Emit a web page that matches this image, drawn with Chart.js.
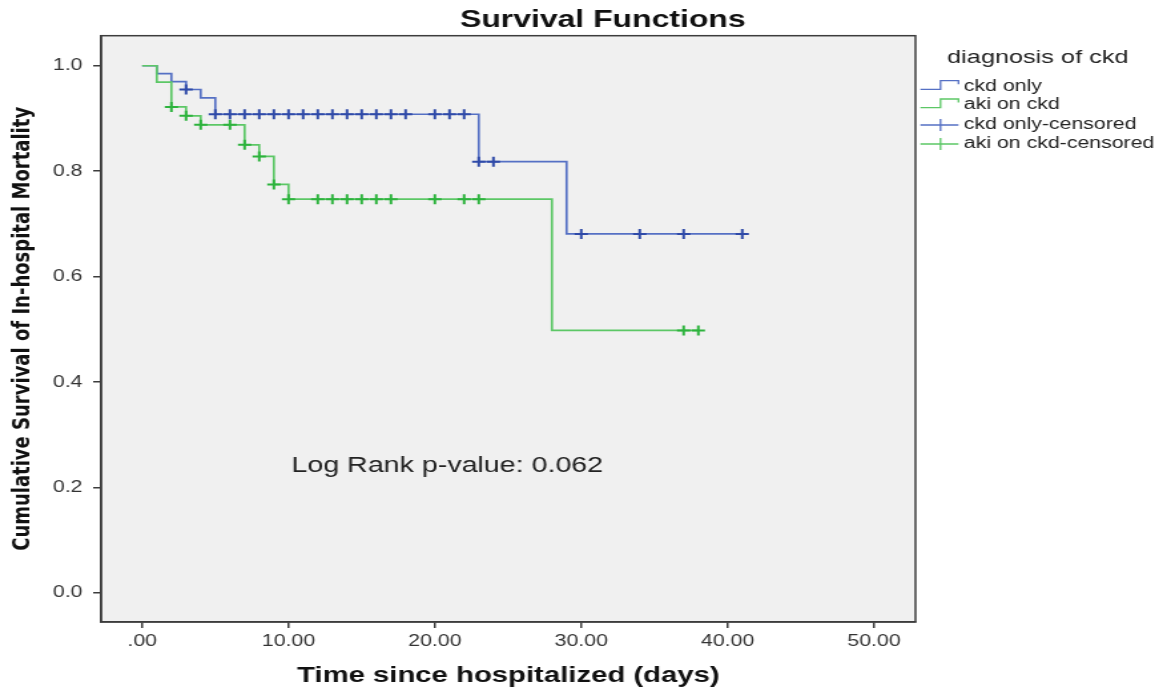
<!DOCTYPE html>
<html>
<head>
<meta charset="utf-8">
<title>Survival Functions</title>
<script src="https://cdn.jsdelivr.net/npm/chart.js@4.4.1/dist/chart.umd.min.js"></script>
<style>
  html, body { margin: 0; padding: 0; background: #fff; }
  #chart { display: block; }
</style>
</head>
<body>
<!-- drawn at a narrower logical width and stretched, like the SPSS export -->
<canvas id="chart" width="874" height="692" style="width:1163px;height:692px"></canvas>
<script>
// --- data ---
const seriesNames = ["ckd only", "aki on ckd"];
const legendLabels = ["ckd only", "aki on ckd", "ckd only-censored", "aki on ckd-censored"];

// event times (days) and survival after each step
const ckdTimes = [0, 1, 2, 3, 4, 5, 23, 29, 41];
const ckdSurv = [1.0, 0.985, 0.970, 0.955, 0.939, 0.908, 0.818, 0.681, 0.681];
const ckdCensored = [3, 5, 6, 7, 8, 9, 10, 11, 12, 13, 14, 15, 16, 17, 18, 20, 21, 22, 23, 24, 30, 34, 37, 41];

const akiTimes = [0, 1, 2, 3, 4, 7, 8, 9, 10, 28, 38];
const akiSurv = [1.0, 0.969, 0.922, 0.905, 0.888, 0.850, 0.828, 0.775, 0.747, 0.498, 0.498];
const akiCensored = [2, 3, 4, 6, 7, 8, 9, 10, 12, 13, 14, 15, 16, 17, 20, 22, 23, 37, 38];

const xTickValues = [0, 10, 20, 30, 40, 50];
const xTickLabels = [".00", "10.00", "20.00", "30.00", "40.00", "50.00"];
const yTickValues = [0, 0.2, 0.4, 0.6, 0.8, 1.0];
const yTickLabels = ["0.0", "0.2", "0.4", "0.6", "0.8", "1.0"];

const pValueText = "Log Rank p-value: 0.062";

// --- styling ---
const lineColors = ["#5570c4", "#5cc766"];
const markColors = ["#2f4aa8", "#2db33d"];
const FONT = '"Liberation Sans", Arial, sans-serif';

// survival value of a step curve at time t
function survAt(times, surv, t) {
  let s = surv[0];
  for (let i = 0; i < times.length; i++) {
    if (times[i] <= t) s = surv[i];
  }
  return s;
}

const toPoints = (xs, ys) => xs.map((x, i) => ({ x: x, y: ys[i] }));
const censorPoints = (cens, times, surv) => cens.map(t => ({ x: t, y: survAt(times, surv, t) }));

const plotFrame = {
  id: "plotFrame",
  beforeDraw(chart) {
    const { ctx, chartArea: a } = chart;
    ctx.save();
    ctx.fillStyle = "#f0f0f0";
    ctx.fillRect(a.left, a.top, a.right - a.left, a.bottom - a.top);
    ctx.restore();
  },
  beforeDatasetsDraw(chart) {
    const { ctx, chartArea: a } = chart;
    ctx.save();
    ctx.strokeStyle = "#3c3c3c";
    ctx.lineWidth = 1.5;
    ctx.strokeRect(a.left, a.top, a.right - a.left, a.bottom - a.top);
    ctx.restore();
  }
};

const annotations = {
  id: "annotations",
  afterDraw(chart) {
    const ctx = chart.ctx;
    const xs = chart.scales.x, ys = chart.scales.y;
    ctx.save();

    // chart title
    ctx.fillStyle = "#111";
    ctx.font = "bold 24px " + FONT;
    ctx.textAlign = "center";
    ctx.textBaseline = "alphabetic";
    ctx.fillText("Survival Functions", 453, 26.7);

    // log rank text inside the plot
    ctx.font = "21.5px " + FONT;
    ctx.textAlign = "left";
    ctx.fillStyle = "#222";
    ctx.fillText(pValueText, xs.getPixelForValue(10.2), ys.getPixelForValue(0.23));

    // legend
    ctx.fillStyle = "#222";
    ctx.font = "19px " + FONT;
    ctx.fillText("diagnosis of ckd", 711.8, 63.3);

    const rows = [86.7, 105, 125, 144];
    const x0 = 691.7, xm = 706.8, x1 = 720.3;
    ctx.font = "16px " + FONT;
    ctx.textBaseline = "middle";
    legendLabels.forEach((label, i) => {
      const y = rows[i];
      const c = lineColors[i % 2];
      ctx.strokeStyle = c;
      ctx.lineWidth = 1.3;
      ctx.beginPath();
      if (i < 2) {
        ctx.moveTo(x0, y + 2.6);
        ctx.lineTo(xm, y + 2.6);
        ctx.lineTo(xm, y - 6);
        ctx.lineTo(x1, y - 6);
        ctx.lineTo(x1, y - 2.5);
      } else {
        ctx.moveTo(x0, y);
        ctx.lineTo(x1, y);
        ctx.moveTo(xm, y - 6);
        ctx.lineTo(xm, y + 6);
      }
      ctx.stroke();
      ctx.fillStyle = "#222";
      ctx.fillText(label, 724.3, y);
    });
    ctx.restore();
  }
};

const ctx = document.getElementById("chart").getContext("2d");
new Chart(ctx, {
  data: {
    datasets: [
      {
        type: "scatter",
        label: legendLabels[2],
        data: censorPoints(ckdCensored, ckdTimes, ckdSurv),
        pointStyle: "cross",
        pointRadius: 5,
        borderColor: markColors[0],
        borderWidth: 2,
        order: 0
      },
      {
        type: "scatter",
        label: legendLabels[3],
        data: censorPoints(akiCensored, akiTimes, akiSurv),
        pointStyle: "cross",
        pointRadius: 5,
        borderColor: markColors[1],
        borderWidth: 2,
        order: 0
      },
      {
        type: "line",
        label: seriesNames[1],
        data: toPoints(akiTimes, akiSurv),
        stepped: true,
        borderColor: lineColors[1],
        borderWidth: 1.7,
        pointRadius: 0,
        fill: false,
        order: 1
      },
      {
        type: "line",
        label: seriesNames[0],
        data: toPoints(ckdTimes, ckdSurv),
        stepped: true,
        borderColor: lineColors[0],
        borderWidth: 1.7,
        pointRadius: 0,
        fill: false,
        order: 2
      }
    ]
  },
  options: {
    responsive: false,
    animation: false,
    events: [],
    layout: { padding: { top: 35.7, right: 186, bottom: 0, left: 0 } },
    plugins: {
      legend: { display: false },
      title: { display: false },
      tooltip: { enabled: false }
    },
    scales: {
      x: {
        type: "linear",
        min: -2.802,
        max: 52.84,
        afterBuildTicks: s => { s.ticks = xTickValues.map(v => ({ value: v })); },
        afterFit: s => { s.height = 70; },
        ticks: {
          callback: (v, i) => xTickLabels[i],
          color: "#333",
          font: { family: FONT, size: 16 },
          padding: 4,
          maxRotation: 0,
          autoSkip: false
        },
        grid: { drawOnChartArea: false, tickLength: 6, color: "#3c3c3c", lineWidth: 1.5 },
        border: { display: true, color: "#3c3c3c", width: 1.5 },
        title: {
          display: true,
          text: "Time since hospitalized (days)",
          color: "#111",
          font: { family: FONT, size: 22, weight: "bold" },
          padding: { top: 0, bottom: 3 }
        }
      },
      y: {
        type: "linear",
        min: -0.055,
        max: 1.057,
        afterBuildTicks: s => { s.ticks = yTickValues.map(v => ({ value: v })); },
        afterFit: s => { s.width = 76; },
        ticks: {
          callback: (v, i) => yTickLabels[i],
          color: "#333",
          font: { family: FONT, size: 16 },
          padding: 8
        },
        grid: { drawOnChartArea: false, tickLength: 6, color: "#3c3c3c", lineWidth: 1.5 },
        border: { display: true, color: "#3c3c3c", width: 1.5 },
        title: {
          display: true,
          text: "Cumulative Survival of In-hospital Mortality",
          color: "#111",
          font: { family: '"DejaVu Sans", sans-serif', size: 18, weight: "bold" },
          padding: { top: 6.9, bottom: 0 }
        }
      }
    }
  },
  plugins: [plotFrame, annotations]
});
</script>
</body>
</html>
